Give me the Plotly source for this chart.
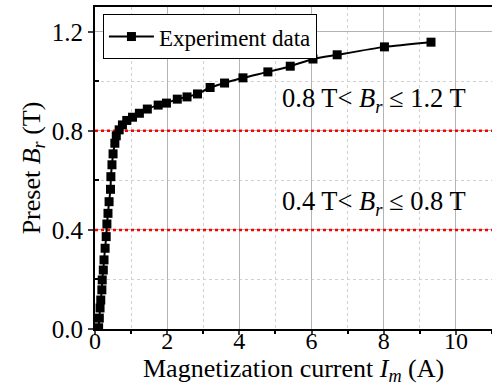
import plotly.graph_objects as go

current_A = [0.10, 0.12, 0.14, 0.16, 0.19, 0.20, 0.23, 0.25, 0.28, 0.31, 0.33, 0.36, 0.39,
             0.43, 0.44, 0.47, 0.50, 0.55, 0.59, 0.67, 0.76, 0.88, 1.04, 1.23, 1.45,
             1.75, 1.98, 2.28, 2.55, 2.84, 3.19, 3.59, 4.10, 4.79, 5.41, 6.04, 6.71,
             8.02, 9.31]
br_T = [0.005, 0.044, 0.085, 0.117, 0.158, 0.198, 0.238, 0.279, 0.326, 0.373, 0.424, 0.467,
        0.514, 0.564, 0.615, 0.663, 0.707, 0.750, 0.780, 0.804, 0.824, 0.842, 0.855,
        0.871, 0.888, 0.904, 0.912, 0.928, 0.937, 0.949, 0.975, 0.993, 1.014, 1.038,
        1.061, 1.090, 1.107, 1.139, 1.158]
limit_levels = [0.4, 0.8]
x_ticks = [0, 2, 4, 6, 8, 10]
y_ticks = [0.0, 0.4, 0.8, 1.2]
y_tick_text = ["0.0", "0.4", "0.8", "1.2"]
range_labels = ["0.8 T< <i>B</i><sub><i>r</i></sub> ≤ 1.2 T", "0.4 T< <i>B</i><sub><i>r</i></sub> ≤ 0.8 T"]
label_y = [0.925, 0.51]
x_title = "Magnetization current <i>I</i><sub><i>m</i></sub> (A)"
y_title = "Preset <i>B</i><sub><i>r</i></sub> (T)"

FONT = "Liberation Serif"

fig = go.Figure()
for lv in limit_levels:
    fig.add_trace(go.Scatter(x=[0, 11], y=[lv, lv], mode="lines",
                             line=dict(color="red", width=2.5, dash="dot"),
                             showlegend=False, hoverinfo="skip"))
fig.add_trace(go.Scatter(x=current_A, y=br_T, mode="lines+markers", name="Experiment data",
                         line=dict(color="black", width=2, shape="spline", smoothing=0.6),
                         marker=dict(symbol="square", size=9, color="black")))

for txt, yy in zip(range_labels, label_y):
    fig.add_annotation(x=7.72, y=yy, text=txt, showarrow=False,
                       font=dict(family=FONT, size=26.5, color="black"))

fig.add_annotation(xref="paper", yref="paper", x=0.5, y=-0.128, yanchor="middle",
                   text=x_title, showarrow=False,
                   font=dict(family=FONT, size=26, color="black"))

fig.update_layout(
    width=492, height=392,
    margin=dict(l=95, r=0, t=7, b=63),
    plot_bgcolor="white", paper_bgcolor="white",
    font=dict(family=FONT, size=23, color="black"),
    legend=dict(x=0.02, y=0.978, xanchor="left", yanchor="top",
                bordercolor="black", borderwidth=1, bgcolor="white",
                font=dict(family=FONT, size=23), itemwidth=45,
                tracegroupgap=0),
)
fig.update_xaxes(
    range=[0, 11], tickvals=x_ticks, ticks="outside", ticklen=4, tickwidth=2,
    ticklabelstandoff=-15,
    showline=True, linecolor="black", linewidth=2, mirror=True,
    showgrid=True, gridcolor="#b4b4b4", gridwidth=1, zeroline=False,
    minor=dict(dtick=1, ticks="outside", ticklen=3, tickwidth=2, tickcolor="black",
               showgrid=True, gridcolor="#d0d0d0", griddash="dot"),
    tickfont=dict(family=FONT, size=24),
)
fig.update_yaxes(
    range=[0, 1.3], tickvals=y_ticks, ticktext=y_tick_text, ticks="outside", ticklen=5, tickwidth=2,
    showline=True, linecolor="black", linewidth=2, mirror=False,
    showgrid=True, gridcolor="#b4b4b4", gridwidth=1, zeroline=False,
    minor=dict(tickvals=[0.2, 0.6, 1.0], ticks="inside", ticklen=4, tickwidth=2, tickcolor="black",
               showgrid=True, gridcolor="#d0d0d0", griddash="dot"),
    tickfont=dict(family=FONT, size=25),
    title=dict(text=y_title, font=dict(family=FONT, size=26), standoff=4),
)

fig.write_html("out.html")
